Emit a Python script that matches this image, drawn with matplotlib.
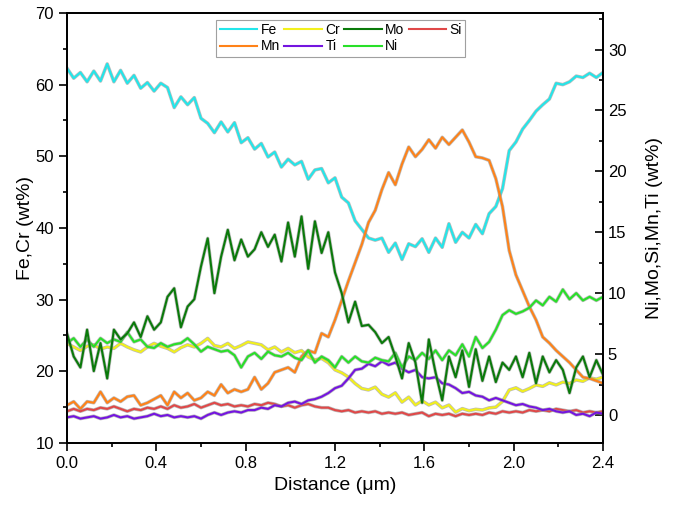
import numpy as np
import matplotlib.pyplot as plt
import matplotlib.patheffects as pe
from matplotlib.ticker import MultipleLocator

plt.rcParams['font.family'] = ['Liberation Sans', 'DejaVu Sans']

# distance along the line scan (um), 0.03 um steps
distance = np.linspace(0.0, 2.4, 81)

# left axis: Fe, Cr (wt%)
fe = [62.3, 60.9, 61.7, 60.4, 61.9, 60.5, 62.9, 60.4, 62.0, 60.2,
      61.3, 59.5, 60.3, 59.1, 60.2, 59.6, 56.8, 58.3, 57.2, 58.2,
      55.3, 54.6, 53.3, 54.8, 53.4, 54.7, 51.9, 52.6, 51.0, 51.8,
      49.9, 50.6, 48.5, 49.6, 48.8, 49.3, 46.8, 48.1, 48.3, 46.3,
      47.0, 44.3, 43.5, 41.0, 39.8, 38.6, 38.3, 38.6, 36.6, 37.9,
      35.6, 37.8, 37.4, 38.5, 36.6, 38.6, 37.3, 40.6, 38.0, 39.4,
      38.6, 40.5, 39.2, 42.0, 43.0, 45.5, 50.8, 52.0, 53.8, 55.0,
      56.3, 57.2, 58.0, 60.2, 60.0, 60.4, 61.2, 61.0, 61.6, 61.0, 61.7]
cr = [23.9, 23.4, 22.9, 23.5, 23.7, 23.1, 23.4, 23.2, 23.9, 23.4,
      23.0, 22.7, 23.4, 23.9, 23.5, 23.2, 22.7, 23.3, 23.7, 23.4,
      23.9, 24.6, 23.6, 23.4, 23.9, 23.2, 23.6, 24.1, 23.9, 23.7,
      23.0, 23.4, 22.7, 23.2, 22.6, 22.9, 22.0, 21.6, 21.8, 21.2,
      20.2, 19.8, 19.2, 18.3, 17.6, 17.4, 17.8, 16.8, 16.4, 17.0,
      15.7, 16.4, 15.3, 15.9, 15.3, 15.7, 14.9, 15.3, 14.3, 14.8,
      14.5, 14.7, 14.6, 14.9, 15.0, 15.8, 17.4, 17.7, 17.2, 17.6,
      18.1, 17.9, 18.4, 18.1, 18.5, 18.3, 18.8, 18.6, 19.1, 18.9, 19.2]

# right axis: Ni, Mo, Si, Mn, Ti (wt%)
mo = [6.7, 4.8, 3.9, 7.0, 3.6, 5.9, 3.0, 7.0, 6.2, 6.7,
      7.6, 6.4, 8.1, 7.0, 7.6, 9.7, 10.4, 7.2, 8.9, 9.5,
      12.2, 14.5, 10.0, 13.0, 15.2, 12.7, 14.4, 13.0, 13.6, 15.0,
      13.8, 14.8, 12.6, 15.8, 13.0, 16.3, 12.0, 15.9, 13.3, 15.0,
      11.7, 10.0, 7.6, 9.3, 7.3, 7.4, 6.8, 5.9, 6.4, 4.8,
      3.0, 5.9, 4.3, 1.0, 6.2, 3.5, 1.2, 4.8, 3.1, 5.3,
      2.3, 5.4, 2.8, 4.8, 2.7, 4.3, 3.7, 4.8, 3.1, 5.1,
      2.6, 4.8, 3.5, 4.5, 3.7, 1.8, 3.9, 4.8, 3.1, 4.5, 3.3]
si = [0.3, 0.5, 0.3, 0.5, 0.4, 0.6, 0.5, 0.7, 0.5, 0.3,
      0.5, 0.4, 0.6, 0.5, 0.7, 0.5, 0.8, 0.6, 0.7, 0.9,
      0.6, 0.8, 1.0, 0.8, 0.9, 0.7, 0.8, 0.7, 0.9, 0.8,
      1.0, 0.9, 0.7, 0.8, 0.6, 0.8, 0.9, 0.7, 0.6, 0.6,
      0.4, 0.3, 0.4, 0.2, 0.3, 0.2, 0.3, 0.1, 0.2, 0.1,
      0.2, 0.0, 0.1, 0.2, -0.1, 0.1, 0.0, 0.1, -0.1, 0.1,
      0.0, 0.1, 0.0, 0.2, 0.1, 0.3, 0.2, 0.3, 0.2, 0.4,
      0.3, 0.4, 0.3, 0.5, 0.4, 0.3, 0.4, 0.2, 0.3, 0.2, 0.3]
mn = [0.8, 1.1, 0.5, 1.1, 1.0, 1.9, 1.0, 1.4, 1.1, 1.5,
      1.6, 0.8, 1.0, 1.3, 1.6, 0.8, 1.9, 1.4, 1.8, 1.2,
      1.4, 1.9, 1.6, 2.5, 1.8, 2.1, 1.9, 2.1, 3.1, 2.1,
      2.6, 3.5, 3.7, 3.9, 3.5, 4.8, 5.3, 5.1, 6.7, 6.4,
      7.8, 9.4, 11.0, 12.5, 14.0, 15.8, 16.8, 18.5, 19.9, 18.9,
      20.6, 22.0, 21.2, 21.8, 22.6, 21.9, 22.8, 22.2, 22.8, 23.4,
      22.4, 21.2, 21.1, 20.9, 19.4, 17.1, 13.5, 11.5, 10.2, 8.9,
      7.8, 6.4, 5.9, 5.3, 4.8, 4.3, 3.7, 3.1, 3.0, 2.8, 2.6]
ti = [-0.2, -0.1, -0.3, -0.2, -0.1, -0.3, -0.2, 0.0, -0.2, -0.1,
      -0.3, -0.2, -0.1, 0.1, -0.1, 0.0, -0.2, -0.1, -0.2, -0.1,
      -0.3, 0.0, 0.2, 0.0, 0.2, 0.3, 0.2, 0.4, 0.4, 0.6,
      0.5, 0.8, 0.7, 1.0, 1.1, 0.9, 1.2, 1.3, 1.5, 1.8,
      2.2, 2.4, 3.0, 3.7, 3.8, 4.2, 4.0, 4.4, 4.1, 4.3,
      3.8, 3.5, 3.7, 3.1, 3.0, 3.1, 2.6, 2.5, 2.2, 1.8,
      1.9, 1.6, 1.5, 1.2, 1.4, 1.2, 1.0, 0.8, 0.9, 0.7,
      0.6, 0.4, 0.5, 0.3, 0.2, 0.3, 0.0, 0.1, -0.1, 0.2, 0.1]
ni = [5.9, 6.3, 5.6, 6.2, 5.6, 6.3, 5.9, 6.2, 6.0, 6.8,
      6.0, 6.2, 5.6, 5.5, 5.9, 5.6, 5.8, 5.9, 6.3, 5.8,
      5.2, 5.6, 5.4, 5.2, 5.3, 4.9, 3.9, 4.8, 5.1, 4.6,
      5.2, 4.9, 4.8, 5.1, 4.7, 4.5, 5.3, 4.3, 4.8, 4.5,
      3.9, 4.8, 4.3, 4.8, 4.4, 4.3, 4.7, 4.5, 4.4, 5.1,
      3.9, 4.8, 4.5, 5.1, 4.6, 5.3, 4.5, 5.3, 4.9, 5.8,
      4.8, 6.4, 5.5, 6.0, 7.0, 8.2, 8.6, 8.3, 8.5, 8.8,
      9.4, 9.0, 9.7, 9.3, 10.3, 9.5, 10.0, 9.4, 9.7, 9.4, 9.7]

colors = {'Fe': '#22e6ea', 'Cr': '#f2f01c', 'Mo': '#0a7a0a', 'Si': '#e04848',
          'Mn': '#ff8218', 'Ti': '#7414e0', 'Ni': '#28e028'}

fig = plt.figure(figsize=(6.74, 5.16), dpi=100)
ax = fig.add_axes([0.0994, 0.1415, 0.7953, 0.8333])
ax2 = ax.twinx()

lw = 1.5
edge = [pe.Stroke(linewidth=lw + 1.0, foreground='#909090', alpha=0.6), pe.Normal()]

lines = {}
lines['Fe'], = ax.plot(distance, fe, color=colors['Fe'], lw=lw, label='Fe')
lines['Cr'], = ax.plot(distance, cr, color=colors['Cr'], lw=lw, label='Cr')
lines['Mn'], = ax2.plot(distance, mn, color=colors['Mn'], lw=lw, label='Mn')
lines['Si'], = ax2.plot(distance, si, color=colors['Si'], lw=lw, label='Si')
lines['Ti'], = ax2.plot(distance, ti, color=colors['Ti'], lw=lw, label='Ti')
lines['Ni'], = ax2.plot(distance, ni, color=colors['Ni'], lw=lw, label='Ni')
lines['Mo'], = ax2.plot(distance, mo, color=colors['Mo'], lw=lw, label='Mo')
for ln in lines.values():
    ln.set_path_effects(edge)

ax.set_xlim(0, 2.4)
ax.set_ylim(10, 70)
ax2.set_ylim(-2.3, 33.0)

ax.xaxis.set_major_locator(MultipleLocator(0.4))
ax.xaxis.set_minor_locator(MultipleLocator(0.2))
ax.yaxis.set_major_locator(MultipleLocator(10))
ax.yaxis.set_minor_locator(MultipleLocator(5))
ax2.yaxis.set_major_locator(MultipleLocator(5))
ax2.yaxis.set_minor_locator(MultipleLocator(2.5))
ax.xaxis.set_major_formatter(plt.FuncFormatter(lambda v, p: f'{v:.1f}'))

ax.tick_params(axis='both', which='both', direction='out', labelsize=12, width=1.2)
ax.tick_params(which='major', length=6)
ax.tick_params(which='minor', length=3)
ax.tick_params(axis='x', top=False)
ax2.tick_params(axis='y', which='both', direction='in', labelsize=12, width=1.2)
ax2.tick_params(which='major', length=6)
ax2.tick_params(which='minor', length=3)

for a in (ax, ax2):
    for s in a.spines.values():
        s.set_linewidth(1.3)

ax.set_xlabel('Distance (μm)', fontsize=14)
ax.set_ylabel('Fe,Cr (wt%)', fontsize=14, labelpad=1)
ax2.set_ylabel('Ni,Mo,Si,Mn,Ti (wt%)', fontsize=14, labelpad=14)

order = ['Fe', 'Mn', 'Cr', 'Ti', 'Mo', 'Ni', 'Si']
leg = ax2.legend([lines[k] for k in order], order, ncol=4, loc='upper center',
                 bbox_to_anchor=(0.511, 0.984), fontsize=10, frameon=True,
                 fancybox=False, edgecolor='#888888', handlelength=2.7,
                 handletextpad=0.25, columnspacing=0.3, labelspacing=0.15,
                 borderpad=0.25, borderaxespad=0)
leg.get_frame().set_linewidth(0.8)
for h in leg.get_lines():
    h.set_path_effects([])

fig.savefig('out.png', dpi=100)
